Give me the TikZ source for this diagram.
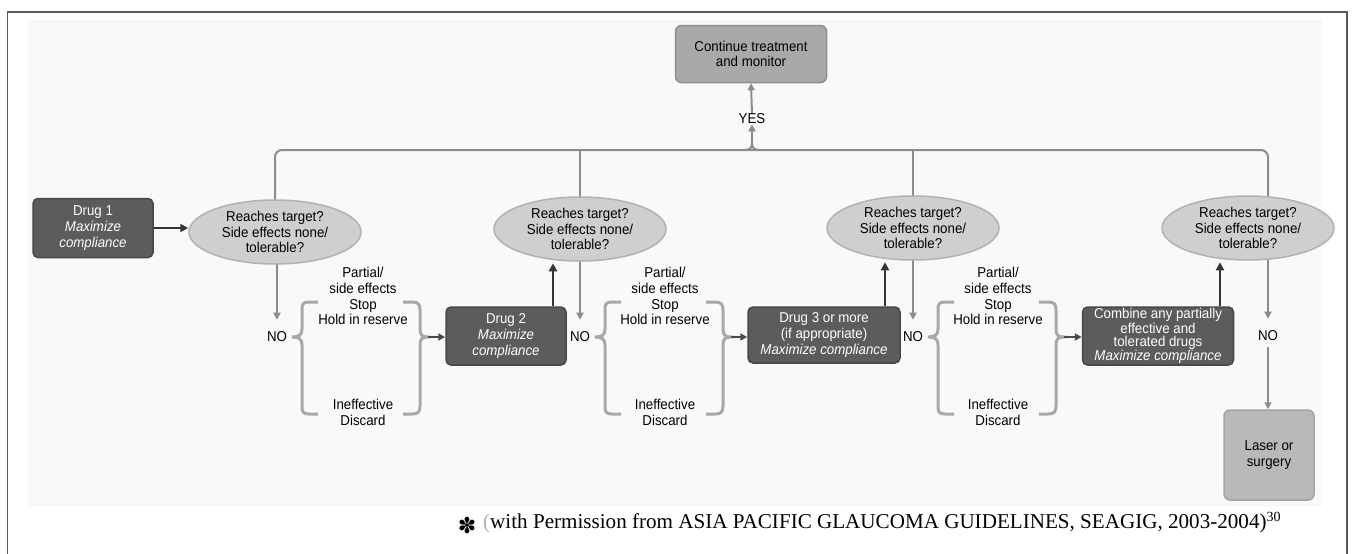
\documentclass[tikz,border=0pt]{standalone}
\usepackage{fontspec}
\setmainfont{Liberation Sans}[FakeStretch=0.93]
\newfontfamily\footserif{Liberation Serif}
\newfontfamily\dingfont{DejaVu Sans}
\usetikzlibrary{shapes.geometric,arrows.meta}
\pgfdeclarelayer{bg}
\pgfsetlayers{bg,main}
\definecolor{darkfill}{HTML}{5C5C5C}
\definecolor{darkedge}{HTML}{474747}
\definecolor{ellfill}{HTML}{CFCFCF}
\definecolor{elledge}{HTML}{B2B2B2}
\definecolor{midfill}{HTML}{A9A9A9}
\definecolor{midedge}{HTML}{8E8E8E}
\definecolor{lightfill}{HTML}{B9B9B9}
\definecolor{lightedge}{HTML}{A4A4A4}
\definecolor{lineg}{HTML}{8C8C8C}
\definecolor{braceg}{HTML}{A8A8A8}
\definecolor{arrowk}{HTML}{353535}
\definecolor{arrowg}{HTML}{4A4A4A}
\definecolor{panel}{HTML}{F9F9F9}
\definecolor{framec}{HTML}{5A5A5A}
\definecolor{parenc}{HTML}{B0B0B0}
\begin{document}
\begin{tikzpicture}[x=1pt,y=-1pt,
  txt/.style={font=\fontsize{14.3}{15.6}\selectfont, align=center, inner sep=0pt},
  darkbox/.style={txt, rectangle, rounded corners=5pt, fill=darkfill, draw=darkedge, line width=1.5pt, text=white},
  graybox/.style={txt, rectangle, rounded corners=6pt, fill=midfill, draw=midedge, line width=1.5pt},
  question/.style={txt, ellipse, fill=ellfill, draw=elledge, line width=1.5pt, minimum width=172pt, minimum height=64pt},
  conn/.style={draw=lineg, line width=2pt},
  grayarrow/.style={conn, -{Triangle[length=7pt,width=7pt]}},
  blackarrow/.style={draw=arrowk, line width=2.2pt, -{Triangle[length=8pt,width=8pt]}},
  bracearrow/.style={draw=arrowg, line width=2pt, -{Triangle[length=7pt,width=7pt]}},
  bracepath/.style={draw=braceg, line width=3pt},
  lbl/.style={txt},
  sidetxt/.style={txt, font=\fontsize{14.3}{15.8}\selectfont}
]
\useasboundingbox (0,0) rectangle (1353,554);

% nodes
\node[darkbox, minimum width=120pt, minimum height=59pt] (drug1) at (93,228) {Drug 1\\\textit{Maximize}\\\textit{compliance}};
\node[question] (q1) at (275,232) {Reaches target?\\Side effects none/\\tolerable?};
\node[question] (q2) at (580,229) {Reaches target?\\Side effects none/\\tolerable?};
\node[question] (q3) at (913,228) {Reaches target?\\Side effects none/\\tolerable?};
\node[question] (q4) at (1248,228) {Reaches target?\\Side effects none/\\tolerable?};
\node[graybox, minimum width=151pt, minimum height=57pt] (cont) at (751,54) {Continue treatment\\and monitor};
\node[lbl] (yes) at (752,119) {YES};
\node[darkbox, minimum width=120pt, minimum height=58pt] (drug2) at (506,336) {Drug 2\\\textit{Maximize}\\\textit{compliance}};
\node[darkbox, minimum width=152pt, minimum height=56pt] (drug3) at (824,335) {Drug 3 or more\\(if appropriate)\\\textit{Maximize compliance}};
\node[darkbox, font=\fontsize{14.3}{13.3}\selectfont, minimum width=151pt, minimum height=58pt] (comb) at (1158,336) {Combine any partially\\effective and\\tolerated drugs\\\textit{Maximize compliance}};
\node[graybox, fill=lightfill, draw=lightedge, minimum width=90pt, minimum height=90pt] (laser) at (1269,455) {Laser or\\surgery};

\node[lbl] (no1) at (277,337) {NO};
\node[lbl] (no2) at (580,337) {NO};
\node[lbl] (no3) at (913,337) {NO};
\node[lbl] (no4) at (1268,336) {NO};

\node[sidetxt] (keep1) at (363,296) {Partial/\\side effects\\Stop\\Hold in reserve};
\node[sidetxt] (disc1) at (363,412) {Ineffective\\Discard};
\node[sidetxt] (keep2) at (665,296) {Partial/\\side effects\\Stop\\Hold in reserve};
\node[sidetxt] (disc2) at (665,412) {Ineffective\\Discard};
\node[sidetxt] (keep3) at (998,296) {Partial/\\side effects\\Stop\\Hold in reserve};
\node[sidetxt] (disc3) at (998,412) {Ineffective\\Discard};

% braces
\foreach \n/\k in {277/1,580/2,913/3}{
  \draw[bracepath] (\n+41,302) -- (\n+32,302) .. controls (\n+26,302) and (\n+25,304) .. (\n+25,310)
     -- (\n+25,329) .. controls (\n+25,335) and (\n+22,337) .. (\n+15,337)
     .. controls (\n+22,337) and (\n+25,339) .. (\n+25,345)
     -- (\n+25,406) .. controls (\n+25,412) and (\n+26,414) .. (\n+32,414) -- (\n+41,414);
  \draw[bracepath] (\n+126,302) -- (\n+135,302) .. controls (\n+141,302) and (\n+143,304) .. (\n+143,310)
     -- (\n+143,329) .. controls (\n+143,335) and (\n+145,337) .. (\n+151,337)
     .. controls (\n+145,337) and (\n+143,339) .. (\n+143,345)
     -- (\n+143,406) .. controls (\n+143,412) and (\n+141,414) .. (\n+135,414) -- (\n+126,414);
  \coordinate (tip\k) at (\n+151,337);
}
\draw[bracearrow] (tip1) -- (tip1 -| drug2.west);
\draw[bracearrow] (tip2) -- (tip2 -| drug3.west);
\draw[bracearrow] (tip3) -- (tip3 -| comb.west);

% black arrows
\draw[blackarrow] (drug1.east) -- (drug1.east -| q1.west);
\coordinate (u2) at ([xshift=47pt]drug2.north);
\coordinate (u3) at ([xshift=61pt]drug3.north);
\coordinate (u4) at ([xshift=62pt]comb.north);
\draw[blackarrow, shorten >=1.5pt] (u2) -- (u2 |- q2.south);
\draw[blackarrow, shorten >=1.5pt] (u3) -- (u3 |- q3.south);
\draw[blackarrow, shorten >=1.5pt] (u4) -- (u4 |- q4.south);

% footer
\node[inner sep=0pt, font=\dingfont\fontsize{22}{22}\selectfont] (star) at (467,525) {✽};
\node[anchor=base west, inner sep=0pt, font=\footserif\fontsize{21.1}{24}\selectfont] (credit) at (483,528) {\textcolor{parenc}{(}with Permission from ASIA PACIFIC GLAUCOMA GUIDELINES, SEAGIG, 2003-2004)\raisebox{7pt}{\fontsize{14}{14}\selectfont 30}};

% background layer
\begin{pgfonlayer}{bg}
\fill[white] (0,0) rectangle (1353,554);
\fill[panel] (28,20) rectangle (1322,507);
\coordinate (hub) at (752,150);
\coordinate (hubtop) at (752,143);
\coordinate (bus4) at (1268,150);
\draw[conn, rounded corners=7pt] (q1.center) -- (q1.center |- hub) -- (bus4) -- (q4.center -| bus4);
\draw[conn] (q2.center) -- (q2.center |- hub);
\draw[conn] (q3.center) -- (q3.center |- hub);
\draw[conn] (744,150) .. controls (750,150) and (752,148) .. (hubtop);
\draw[conn] (760,150) .. controls (754,150) and (752,148) .. (hubtop);
\draw[grayarrow] (hubtop) -- (yes.south);
\draw[grayarrow] (yes.north) -- (cont.south);
\draw[grayarrow, shorten >=12pt] (no1 |- q1.center) -- (no1.north);
\draw[grayarrow, shorten >=12pt] (no2 |- q2.center) -- (no2.north);
\draw[grayarrow, shorten >=12pt] (no3 |- q3.center) -- (no3.north);
\draw[grayarrow, shorten >=12pt] (no4 |- q4.center) -- (no4.north);
\draw[grayarrow, shorten <=6pt] (no4.south) -- (no4.south |- laser.north);
\end{pgfonlayer}

% frame
\draw[framec, line width=1.5pt] (7.5,554) -- (7.5,12) -- (1347,12) -- (1347,554);
\end{tikzpicture}
\end{document}
